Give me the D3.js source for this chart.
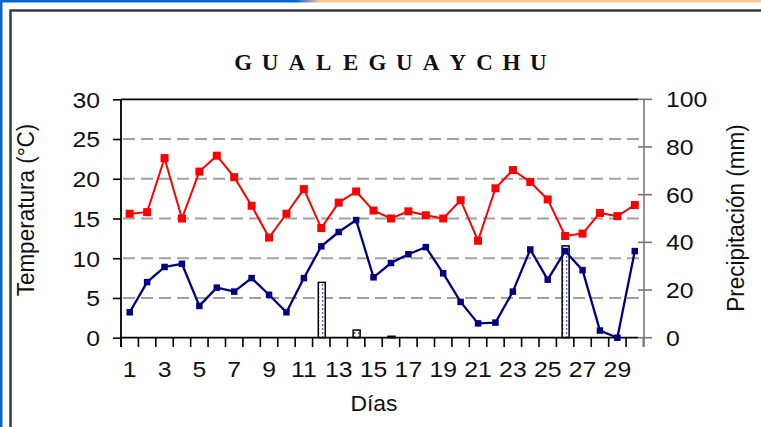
<!DOCTYPE html>
<html><head><meta charset="utf-8">
<script src="https://cdn.jsdelivr.net/npm/d3@7"></script>
<style>html,body{margin:0;padding:0;background:#fff;overflow:hidden}</style>
</head><body><svg id="c" width="761" height="427"></svg>
<script>
// ---- data ----
const days = [1,2,3,4,5,6,7,8,9,10,11,12,13,14,15,16,17,18,19,20,21,22,23,24,25,26,27,28,29,30];
const dayLabels = [1,3,5,7,9,11,13,15,17,19,21,23,25,27,29];
const tMax = [15.6,15.8,22.6,15.0,20.9,22.9,20.2,16.6,12.6,15.6,18.7,13.8,17.0,18.4,16.0,15.0,15.9,15.4,15.0,17.3,12.2,18.8,21.1,19.6,17.4,12.8,13.1,15.7,15.3,16.7];
const tMin = [3.2,7.0,8.9,9.3,4.0,6.3,5.8,7.5,5.4,3.2,7.5,11.5,13.3,14.8,7.6,9.4,10.5,11.4,8.1,4.5,1.8,1.9,5.8,11.1,7.3,10.9,8.5,0.9,0.0,10.9];
const precip = [0,0,0,0,0,0,0,0,0,0,0,23.2,0,3.2,0,0.6,0,0,0,0,0,0,0,0,0,38.5,0,0,0,0];
const tempTicks = [0,5,10,15,20,25,30];
const gridTicks = [5,10,15,20,25];
const precTicks = [0,20,40,60,80,100];
const title = "GUALEGUAYCHU";

// ---- layout ----
const L = 121, R = 643.5, T = 99.3, B = 337.7;
const FONT = "'Liberation Sans', Arial, sans-serif";
const FS = 22.5, SX = 1.1;

const svg = d3.select("#c");
const x = d3.scaleBand().domain(days).range([L, R]).padding(0);
const bw = x.bandwidth();
const yT = d3.scaleLinear().domain([0, 30]).range([B, T]);
const yP = d3.scaleLinear().domain([0, 100]).range([B, T]);

// frame decorations
const defs = svg.append("defs");
const grad = defs.append("linearGradient").attr("id","topg").attr("x1","0").attr("x2","1").attr("y1","0").attr("y2","0");
grad.append("stop").attr("offset","0").attr("stop-color","#0a64d0");
grad.append("stop").attr("offset","0.39").attr("stop-color","#0a64d0");
grad.append("stop").attr("offset","0.42").attr("stop-color","#fcc690");
grad.append("stop").attr("offset","1").attr("stop-color","#fcc690");
svg.append("rect").attr("x",0).attr("y",0).attr("width",761).attr("height",2.5).attr("fill","url(#topg)");
svg.append("rect").attr("x",0).attr("y",0).attr("width",2.5).attr("height",427).attr("fill","#0a64d0");
svg.append("rect").attr("x",10.5).attr("y",10.5).attr("width",800).attr("height",500)
  .attr("fill","none").attr("stroke","#3a3a3a").attr("stroke-width",2.5);

// bar pattern
const pat = defs.append("pattern").attr("id","dots").attr("patternUnits","userSpaceOnUse")
  .attr("width",4).attr("height",4);
pat.append("rect").attr("width",4).attr("height",4).attr("fill","#ffffff");
pat.append("rect").attr("x",2).attr("y",0).attr("width",1.3).attr("height",2).attr("fill","#5060c0");

// title
const tx = d3.scalePoint().domain(d3.range(title.length)).range([243.3, 538.3]);
svg.append("g").selectAll("text").data(title.split("")).join("text")
  .attr("x",(d,i)=>tx(i)).attr("y",69.5)
  .attr("text-anchor","middle")
  .attr("font-family","'Liberation Serif','Times New Roman',serif")
  .attr("font-weight","bold").attr("font-size",23).attr("fill","#111")
  .text(d=>d);

// gridlines
svg.append("g").selectAll("line").data(gridTicks).join("line")
  .attr("x1",L+2).attr("x2",640).attr("y1",d=>yT(d)).attr("y2",d=>yT(d))
  .attr("stroke","#a0a0a0").attr("stroke-width",2).attr("stroke-dasharray","12,6");

// precipitation bars
const bw2 = 7;
svg.append("g").selectAll("rect").data(days.filter((d,i)=>precip[i]>0)).join("rect")
  .attr("x",d=>x(d)+bw/2-bw2/2+0.5).attr("width",bw2)
  .attr("y",d=>yP(precip[d-1])).attr("height",d=>B-yP(precip[d-1]))
  .attr("fill","url(#dots)").attr("stroke","#000").attr("stroke-width",1.5);

// plot box lines
svg.append("line").attr("x1",L).attr("x2",638).attr("y1",T).attr("y2",T).attr("stroke","#000").attr("stroke-width",1.8);
svg.append("line").attr("x1",L).attr("x2",638).attr("y1",B).attr("y2",B).attr("stroke","#000").attr("stroke-width",1.8);
svg.append("line").attr("x1",L).attr("x2",L).attr("y1",T).attr("y2",347).attr("stroke","#000").attr("stroke-width",1.8);

// left axis
const ga = svg.append("g").attr("transform",`translate(${L},0)`)
  .call(d3.axisLeft(yT).tickValues(tempTicks).tickSize(8).tickFormat(d3.format("d")));
ga.select(".domain").remove();
ga.selectAll(".tick line").attr("stroke","#000").attr("stroke-width",1.6);
ga.selectAll(".tick text").attr("x",0).attr("dy","0.35em")
  .attr("transform",`translate(-21,0) scale(${SX},1)`)
  .attr("font-family",FONT).attr("font-size",FS).attr("fill","#111");

// bottom ticks at category boundaries
const bounds = days.map(d=>x(d)).concat([R]);
svg.append("g").selectAll("line").data(bounds).join("line")
  .attr("x1",d=>d).attr("x2",d=>d).attr("y1",B).attr("y2",347)
  .attr("stroke","#000").attr("stroke-width",1.6);
svg.append("g").selectAll("text").data(dayLabels).join("text")
  .attr("transform",d=>`translate(${x(d)+bw/2},377) scale(${SX},1)`)
  .attr("text-anchor","middle").attr("font-family",FONT).attr("font-size",FS).attr("fill","#111")
  .text(d=>d);

// right axis
svg.append("line").attr("x1",644).attr("x2",644).attr("y1",T).attr("y2",347)
  .attr("stroke","#8a8a8a").attr("stroke-width",1.8);
const gr = svg.append("g");
gr.selectAll("line").data(precTicks).join("line")
  .attr("x1",638).attr("x2",652).attr("y1",d=>yP(d)).attr("y2",d=>yP(d))
  .attr("stroke","#777").attr("stroke-width",1.6);
gr.selectAll("text").data(precTicks).join("text")
  .attr("transform",d=>`translate(666,${yP(d)}) scale(${SX},1)`).attr("dy","0.35em")
  .attr("font-family",FONT).attr("font-size",FS).attr("fill","#111")
  .text(d=>d);

// lines
function drawSeries(vals, color, ms, sw) {
  const line = d3.line().x((d,i)=>x(days[i])+bw/2).y(d=>yT(d));
  svg.append("path").datum(vals).attr("d",line).attr("fill","none")
    .attr("stroke",color).attr("stroke-width",sw);
  svg.append("g").selectAll("rect").data(vals).join("rect")
    .attr("x",(d,i)=>x(days[i])+bw/2-ms/2).attr("y",d=>yT(d)-ms/2)
    .attr("width",ms).attr("height",ms).attr("fill",color);
}
drawSeries(tMax, "#ff0000", 8, 2);
drawSeries(tMin, "#000080", 6.5, 2.3);

// axis titles
svg.append("text").attr("transform",`translate(34,210) rotate(-90) scale(1,${SX})`)
  .attr("text-anchor","middle").attr("font-family",FONT).attr("font-size",FS).attr("fill","#111")
  .text("Temperatura (°C)");
svg.append("text").attr("transform",`translate(744,218) rotate(-90) scale(1,${SX})`)
  .attr("text-anchor","middle").attr("font-family",FONT).attr("font-size",FS).attr("fill","#111")
  .text("Precipitación (mm)");
svg.append("text").attr("transform",`translate(374,411) scale(1.02,1)`)
  .attr("text-anchor","middle").attr("font-family",FONT).attr("font-size",FS).attr("fill","#111")
  .text("Días");
</script></body></html>
